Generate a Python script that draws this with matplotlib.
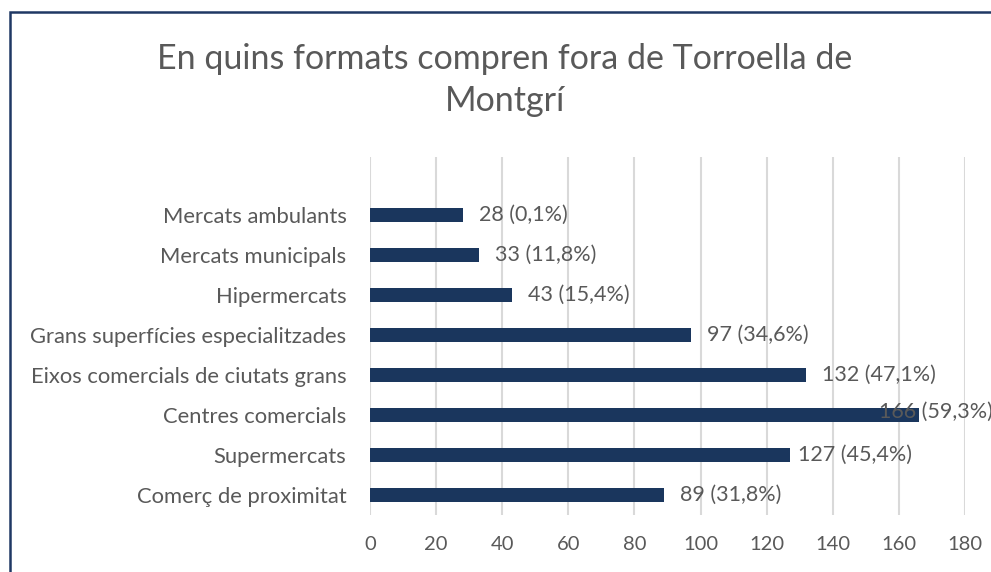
import matplotlib.pyplot as plt
from matplotlib.patches import Rectangle

categories = [
    "Comerç de proximitat",
    "Supermercats",
    "Centres comercials",
    "Eixos comercials de ciutats grans",
    "Grans superfícies especialitzades",
    "Hipermercats",
    "Mercats municipals",
    "Mercats ambulants",
]
values = [89, 127, 166, 132, 97, 43, 33, 28]
labels = ["89 (31,8%)", "127 (45,4%)", "166 (59,3%)", "132 (47,1%)",
          "97 (34,6%)", "43 (15,4%)", "33 (11,8%)", "28 (0,1%)"]
xticks = [0, 20, 40, 60, 80, 100, 120, 140, 160, 180]

plt.rcParams["font.family"] = ["Lato", "DejaVu Sans"]
text_col = "#595959"
bar_col = "#1a365d"

fig = plt.figure(figsize=(9.91, 5.72), dpi=100)
ax = fig.add_axes([370 / 991, 1 - 515 / 572, (965 - 370) / 991, (515 - 157) / 572])

y = list(range(len(categories)))
ax.barh(y, values, height=0.35, color=bar_col, zorder=3)
ax.set_xlim(0, 180)
ax.set_ylim(-0.5, 8.45)
ax.set_xticks(xticks)
ax.set_xticklabels([str(t) for t in xticks], fontsize=14.5, color=text_col)
ax.set_yticks(y)
ax.set_yticklabels(categories, fontsize=15.8, color=text_col)
ax.tick_params(axis="both", length=0)
ax.tick_params(axis="x", pad=15)
ax.tick_params(axis="y", pad=17)
ax.grid(axis="x", color="#d9d9d9", linewidth=1.5, zorder=0)
for s in ax.spines.values():
    s.set_visible(False)

for yi, v, lab in zip(y, values, labels):
    if v > 160:
        # Excel pushes this label back inside the chart area
        ax.annotate(lab, xy=(1.0, yi), xycoords=("figure fraction", "data"),
                    ha="right", va="bottom", fontsize=15.5, color=text_col,
                    xytext=(1, -5), textcoords="offset points")
    else:
        off = 6 if v == 127 else 11.5
        ax.annotate(lab, xy=(v, yi), xytext=(off, 0), textcoords="offset points",
                    ha="left", va="center", fontsize=15.5, color=text_col)

fig.text(505 / 991, 1 - 80 / 572, "En quins formats compren fora de Torroella de\nMontgrí",
         ha="center", va="center", fontsize=24.5, color=text_col, linespacing=1.35)

fig.patches.append(Rectangle((10 / 991, -0.1), 1.2, 1 - 12 / 572 + 0.1,
                             transform=fig.transFigure, fill=False,
                             edgecolor="#1f3864", linewidth=1.8))

fig.savefig("out.png", dpi=100)
